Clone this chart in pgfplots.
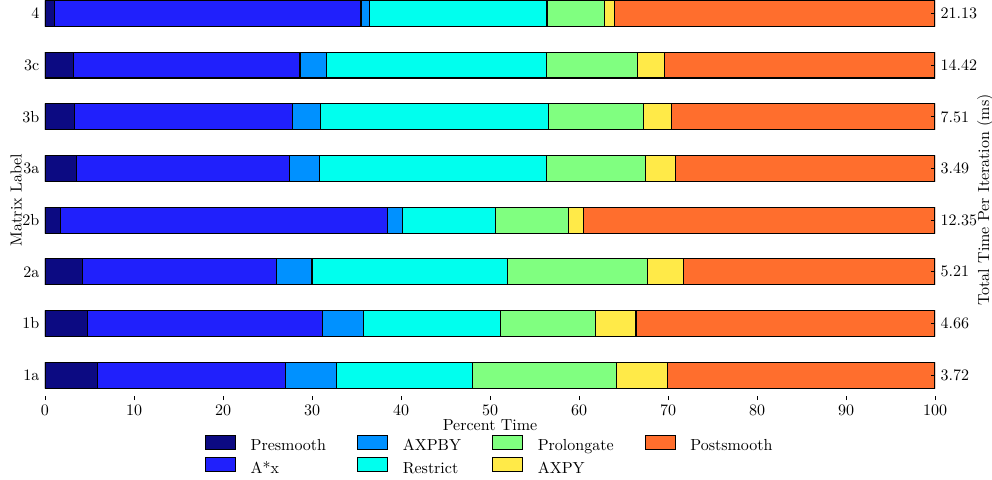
\documentclass[border=0pt]{standalone}
\usepackage{pgfplots}
\usepackage{pgfplotstable}
\pgfplotsset{compat=1.18}
\definecolor{cPre}{RGB}{12,10,130}
\definecolor{cAx}{RGB}{32,32,252}
\definecolor{cAxpby}{RGB}{0,145,255}
\definecolor{cRestr}{RGB}{0,255,238}
\definecolor{cProl}{RGB}{128,255,128}
\definecolor{cAxpy}{RGB}{255,234,72}
\definecolor{cPost}{RGB}{255,110,45}
\pgfplotstableread{
y pre ax axpby restr prol axpy post
0 5.92 21.08 5.80 15.20 16.20 5.70 30.10
1 4.80 26.40 4.60 15.40 10.65 4.55 33.60
2 4.20 21.80 4.00 22.00 15.70 4.00 28.30
3 1.76 36.74 1.70 10.40 8.20 1.70 39.50
4 3.52 23.98 3.30 25.50 11.20 3.30 29.20
5 3.33 24.47 3.20 25.55 10.65 3.20 29.60
6 3.18 25.47 3.00 24.65 10.30 3.00 30.40
7 1.05 34.45 1.00 19.90 6.50 1.10 36.00
}\data
\begin{document}
\begin{tikzpicture}
\begin{axis}[
  at={(0,0)}, anchor=south west,
  scale only axis, width=556.25pt, height=250pt,
  xbar stacked, bar width=0.5,
  xmin=0, xmax=100, ymin=-0.48, ymax=7.26,
  axis x line*=bottom, axis y line*=left,
  axis line style={draw=none},
  tick align=inside, major tick length=2.5pt,
  tick style={black, line width=0.5pt},
  xtick={0,10,...,100},
  ytick={0,...,7},
  yticklabels={1a,1b,2a,2b,3a,3b,3c,4},
  xlabel={Percent Time},
  ylabel={Matrix Label},
  xlabel style={at={(axis description cs:0.5,-0.062)}, anchor=center},
  ylabel style={at={(axis description cs:-0.0324,0.5)}, anchor=center},
  legend columns=4,
  legend style={at={(axis description cs:0.5,-0.0775)}, anchor=north, draw=none, fill=none,
    /tikz/every odd column/.append style={column sep=7.5pt},
    /tikz/every even column/.append style={column sep=18pt},
    nodes={inner sep=1.5pt, text height=7pt, text depth=2pt},
    row sep=0.5pt},
  legend cell align=left,
  legend image code/.code={\draw[#1] (0pt,-1.4pt) rectangle (18.75pt,7.35pt);},
  every axis plot/.append style={draw=black, line width=0.7pt},
]
\addplot[fill=cPre, forget plot] table[x=pre, y=y]{\data};
\addplot[fill=cAx, forget plot] table[x=ax, y=y]{\data};
\addplot[fill=cAxpby, forget plot] table[x=axpby, y=y]{\data};
\addplot[fill=cRestr, forget plot] table[x=restr, y=y]{\data};
\addplot[fill=cProl, forget plot] table[x=prol, y=y]{\data};
\addplot[fill=cAxpy, forget plot] table[x=axpy, y=y]{\data};
\addplot[fill=cPost, forget plot] table[x=post, y=y]{\data};
\addlegendimage{fill=cPre, draw=black, line width=0.7pt}
\addlegendentry{Presmooth}
\addlegendimage{fill=cAxpby, draw=black, line width=0.7pt}
\addlegendentry{AXPBY}
\addlegendimage{fill=cProl, draw=black, line width=0.7pt}
\addlegendentry{Prolongate}
\addlegendimage{fill=cPost, draw=black, line width=0.7pt}
\addlegendentry{Postsmooth}
\addlegendimage{fill=cAx, draw=black, line width=0.7pt}
\addlegendentry{A*x}
\addlegendimage{fill=cRestr, draw=black, line width=0.7pt}
\addlegendentry{Restrict}
\addlegendimage{fill=cAxpy, draw=black, line width=0.7pt}
\addlegendentry{AXPY}
\end{axis}
\begin{axis}[
  at={(0,0)}, anchor=south west,
  scale only axis, width=556.25pt, height=250pt,
  xmin=0, xmax=100, ymin=-0.48, ymax=7.26,
  hide x axis,
  axis y line*=right,
  axis line style={draw=none},
  tick align=inside, major tick length=2.5pt,
  tick style={black, line width=0.5pt},
  ytick={0,...,7},
  yticklabels={3.72,4.66,5.21,12.35,3.49,7.51,14.42,21.13},
  ylabel={Total Time Per Iteration (ms)},
  ylabel style={at={(axis description cs:1.0562,0.5)}, anchor=center, rotate=0},
]
\end{axis}
\pgfresetboundingbox
\path[use as bounding box] (-28.125pt,-49.375pt) rectangle (591.875pt,250pt);
\end{tikzpicture}
\end{document}
